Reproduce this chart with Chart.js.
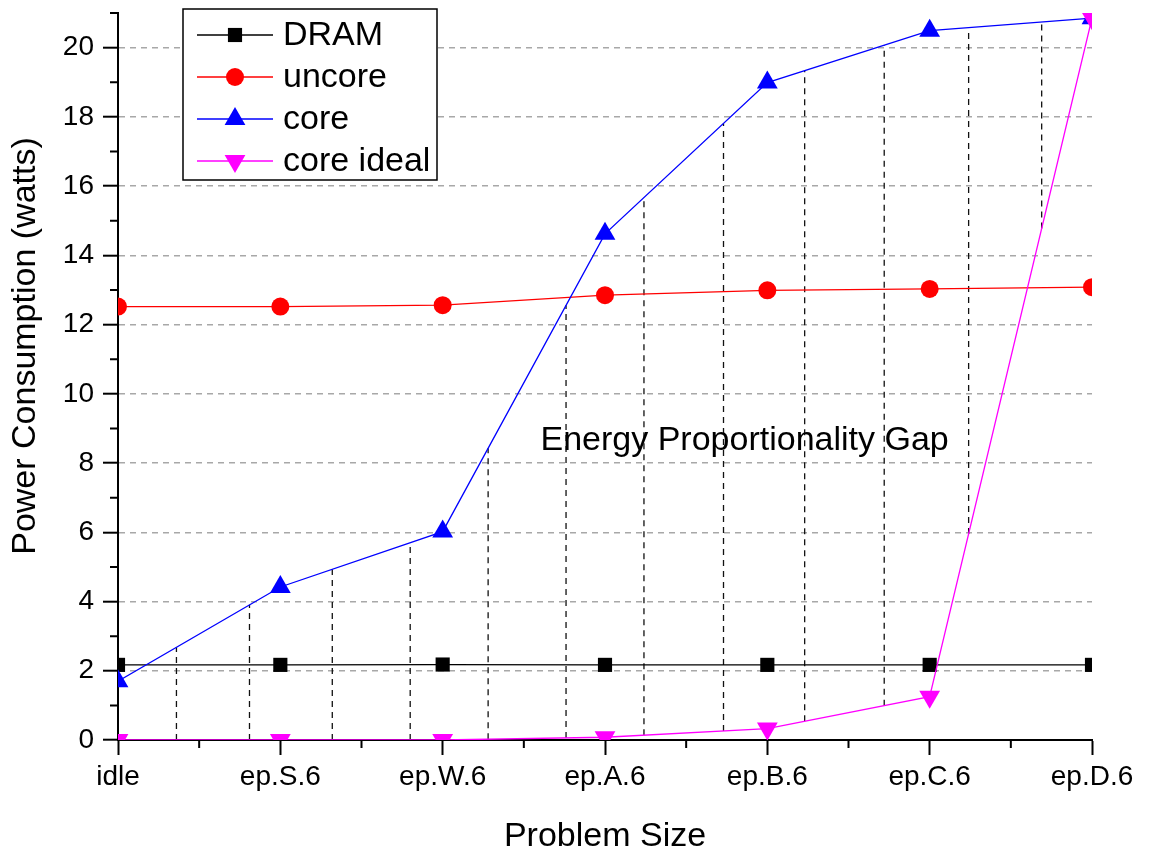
<!DOCTYPE html>
<html>
<head>
<meta charset="utf-8">
<title>Power Consumption vs Problem Size</title>
<script src="https://cdn.jsdelivr.net/npm/chart.js@4/dist/chart.umd.min.js"></script>
<style>
    html, body { margin: 0; padding: 0; background: #fff; }
    #powerChart { display: block; }
</style>
</head>
<body>
<canvas id="powerChart" width="1152" height="850"></canvas>
<script>
// Chart data
const categories = ['idle', 'ep.S.6', 'ep.W.6', 'ep.A.6', 'ep.B.6', 'ep.C.6', 'ep.D.6'];
const dram = [2.17, 2.17, 2.18, 2.17, 2.17, 2.17, 2.17];
const uncore = [12.52, 12.52, 12.56, 12.85, 12.99, 13.03, 13.08];
const core = [1.70, 4.42, 6.02, 14.62, 18.99, 20.49, 20.85];
const coreIdeal = [0, 0, 0, 0.08, 0.33, 1.25, 20.85];

// Y axis range and tick step
const yMin = 0;
const yMax = 21;
const yStep = 2;

// Positions (in category units) of the dashed "gap" lines between core and core ideal
const gapAt = [0.36, 0.81, 1.32, 1.80, 2.28, 2.76, 3.24, 3.73, 4.23, 4.72, 5.24, 5.69];
const gapLabel = 'Energy Proportionality Gap';
const gapLabelAt = { x: 3.86, y: 8.66 };

const yTitle = 'Power Consumption (watts)';
const xTitle = 'Problem Size';

const FONT = '"Liberation Sans", Arial, Helvetica, sans-serif';

// Linear interpolation of a series at a fractional category index
function valueAt(series, t) {
    const i = Math.min(Math.floor(t), series.length - 2);
    return series[i] + (t - i) * (series[i + 1] - series[i]);
}

// Minor tick marks on both axes
const minorTicks = {
    id: 'minorTicks',
    afterDraw(chart) {
        const { ctx, scales: { x, y } } = chart;
        ctx.save();
        ctx.strokeStyle = '#000';
        ctx.lineWidth = 2;
        ctx.beginPath();
        for (let i = 0; i < categories.length - 1; i++) {
            const px = x.getPixelForValue(i + 0.5);
            ctx.moveTo(px, y.bottom);
            ctx.lineTo(px, y.bottom + 8);
        }
        for (let v = yMin + yStep / 2; v <= yMax; v += yStep) {
            const py = y.getPixelForValue(v);
            ctx.moveTo(x.left, py);
            ctx.lineTo(x.left - 8, py);
        }
        ctx.stroke();
        ctx.restore();
    }
};

// Dashed vertical lines filling the gap between core and core ideal
const gapLines = {
    id: 'gapLines',
    beforeDatasetsDraw(chart) {
        const { ctx, scales: { x, y } } = chart;
        ctx.save();
        ctx.strokeStyle = '#111';
        ctx.lineWidth = 1.3;
        ctx.setLineDash([6, 5]);
        gapAt.forEach(t => {
            const px = x.getPixelForValue(t);
            ctx.beginPath();
            ctx.moveTo(px, y.getPixelForValue(valueAt(coreIdeal, t)));
            ctx.lineTo(px, y.getPixelForValue(valueAt(core, t)));
            ctx.stroke();
        });
        ctx.restore();
    }
};

// Annotation text and the y axis title (placed a bit above centre, as in the original)
const extraText = {
    id: 'extraText',
    afterDatasetsDraw(chart) {
        const { ctx, scales: { x, y } } = chart;
        ctx.save();
        ctx.font = '34px ' + FONT;
        ctx.fillStyle = '#000';
        ctx.textAlign = 'center';
        ctx.textBaseline = 'middle';
        ctx.fillText(gapLabel, x.getPixelForValue(gapLabelAt.x), y.getPixelForValue(gapLabelAt.y));

        ctx.translate(26, 346);
        ctx.rotate(-Math.PI / 2);
        ctx.fillText(yTitle, 0, 0);
        ctx.restore();
    }
};

// Boxed legend with line + marker samples
const legendBox = {
    id: 'legendBox',
    afterDraw(chart) {
        const { ctx } = chart;
        const box = { left: 183, top: 9, width: 254, height: 171 };
        const rowHeight = 42;
        ctx.save();
        ctx.fillStyle = '#fff';
        ctx.fillRect(box.left, box.top, box.width, box.height);
        ctx.strokeStyle = '#000';
        ctx.lineWidth = 1.5;
        ctx.strokeRect(box.left, box.top, box.width, box.height);

        chart.data.datasets.forEach((ds, i) => {
            const cy = box.top + 26 + i * rowHeight;
            ctx.strokeStyle = ds.borderColor;
            ctx.lineWidth = 1.3;
            ctx.beginPath();
            ctx.moveTo(box.left + 14, cy);
            ctx.lineTo(box.left + 90, cy);
            ctx.stroke();

            ctx.fillStyle = ds.backgroundColor;
            Chart.helpers.drawPoint(ctx, {
                pointStyle: ds.pointStyle,
                rotation: ds.pointRotation || 0,
                radius: ds.pointRadius,
                borderWidth: 0
            }, box.left + 52, cy);

            ctx.fillStyle = '#000';
            ctx.font = '34px ' + FONT;
            ctx.textAlign = 'left';
            ctx.textBaseline = 'middle';
            ctx.fillText(ds.label, box.left + 100, cy + 1);
        });
        ctx.restore();
    }
};

function makeDataset(label, data, color, style, radius, rotation, order) {
    return {
        label: label,
        data: data,
        borderColor: color,
        backgroundColor: color,
        borderWidth: 1.3,
        pointStyle: style,
        pointRadius: radius,
        pointRotation: rotation,
        pointBorderWidth: 0,
        tension: 0,
        clip: 0,
        order: order
    };
}

const ctx = document.getElementById('powerChart').getContext('2d');
const powerChart = new Chart(ctx, {
    type: 'line',
    data: {
        labels: categories,
        datasets: [
            makeDataset('DRAM', dram, '#000000', 'rect', 10, 0, 4),
            makeDataset('uncore', uncore, '#ff0000', 'circle', 9, 0, 3),
            makeDataset('core', core, '#0000ff', 'triangle', 12, 0, 2),
            makeDataset('core ideal', coreIdeal, '#ff00ff', 'triangle', 12, 180, 1)
        ]
    },
    options: {
        responsive: false,
        animation: false,
        events: [],
        layout: {
            padding: { left: 0, top: 13, right: 60, bottom: 0 }
        },
        plugins: {
            legend: { display: false },
            tooltip: { enabled: false }
        },
        scales: {
            x: {
                type: 'category',
                offset: false,
                afterFit: (scale) => {
                    scale.height = 110;
                    scale.paddingLeft = 0;
                    scale.paddingRight = 0;
                },
                grid: {
                    drawOnChartArea: false,
                    tickColor: '#000',
                    tickWidth: 2,
                    tickLength: 15
                },
                border: { display: true, color: '#000', width: 2 },
                ticks: {
                    color: '#000',
                    padding: 5,
                    maxRotation: 0,
                    autoSkip: false,
                    font: { family: FONT, size: 28 }
                },
                title: {
                    display: true,
                    text: xTitle,
                    color: '#000',
                    padding: { top: 0, bottom: 0 },
                    font: { family: FONT, size: 34, lineHeight: 0.8 }
                }
            },
            y: {
                min: yMin,
                max: yMax,
                afterFit: (scale) => {
                    scale.width = 118;
                    scale.paddingTop = 0;
                    scale.paddingBottom = 0;
                },
                afterBuildTicks: (scale) => {
                    scale.ticks = scale.ticks.filter(t => t.value % yStep === 0);
                },
                grid: {
                    color: (c) => (c.tick && c.tick.value === 0) ? 'rgba(0,0,0,0)' : '#a8a8a8',
                    lineWidth: 1.4,
                    tickColor: '#000',
                    tickWidth: 2,
                    tickLength: 15,
                    tickBorderDash: []
                },
                border: { display: true, color: '#000', width: 2, dash: [6, 5] },
                ticks: {
                    stepSize: yStep,
                    color: '#000',
                    padding: 9,
                    font: { family: FONT, size: 28 }
                },
                title: { display: false }
            }
        }
    },
    plugins: [gapLines, extraText, minorTicks, legendBox]
});
</script>
</body>
</html>
